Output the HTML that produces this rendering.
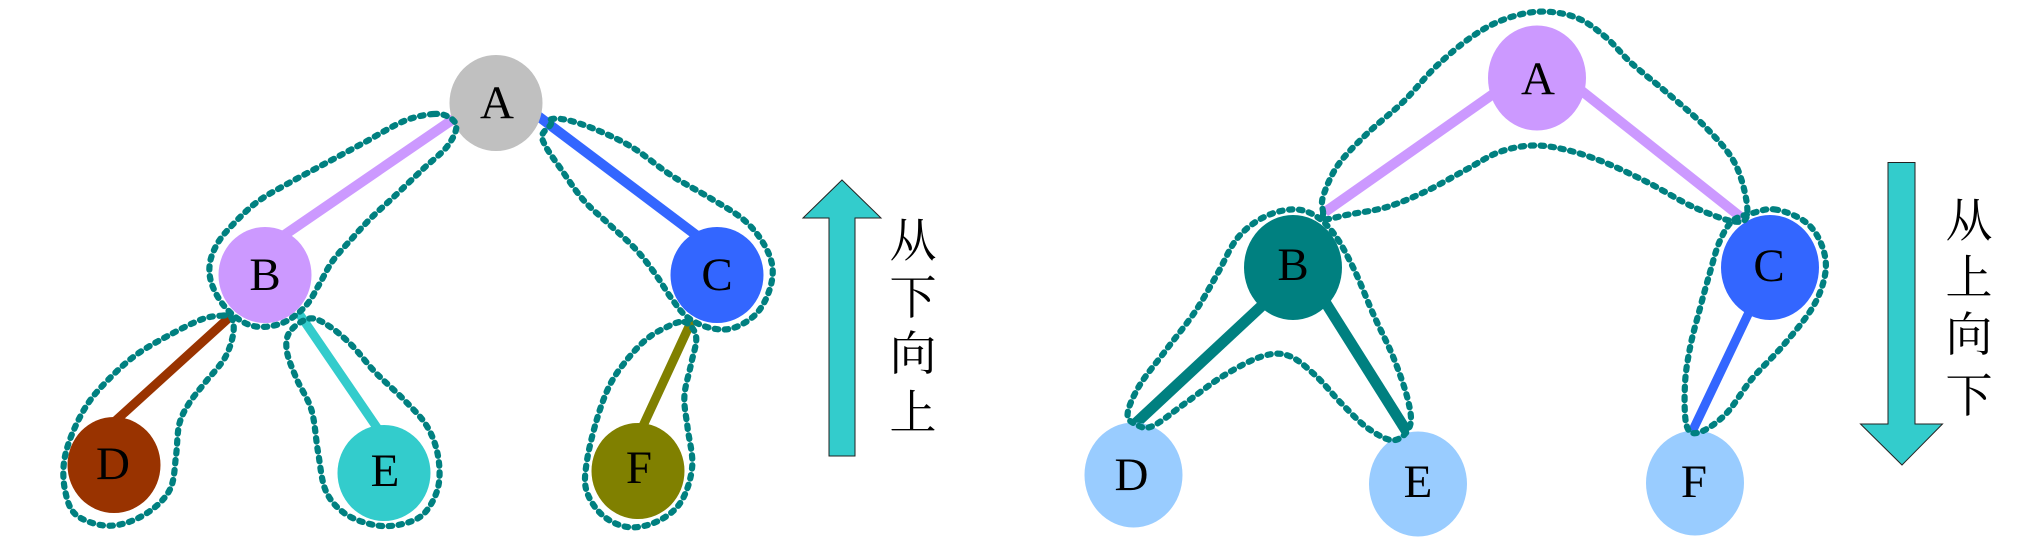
<!DOCTYPE html>
<html lang="zh">
<head>
<meta charset="utf-8">
<title>Tree traversal: bottom-up and top-down</title>
<style>
  html, body { margin: 0; padding: 0; background: #fff; }
  body { width: 2044px; height: 550px; overflow: hidden; }
  svg { display: block; }
  .letter { font-family: "Liberation Serif", serif; font-size: 47px; text-anchor: middle; fill: #000; }
  .cjk { font-family: "Liberation Serif", "Noto Serif CJK SC", serif; font-size: 47px; font-weight: 400; text-anchor: middle; fill: #000; }
  .blob { fill: none; stroke: #008080; stroke-width: 6.2; stroke-linecap: round; stroke-linejoin: round; stroke-dasharray: 3.5 6.5; }
  .arrow { fill: #33cccc; stroke: #222; stroke-width: 1; }
</style>
</head>
<body>
<svg width="2044" height="550" viewBox="0 0 2044 550" xmlns="http://www.w3.org/2000/svg">
  <rect width="2044" height="550" fill="#fff"/>

  <g>
    <g fill="none">
      <line x1="455" y1="118" x2="280" y2="238" stroke="#cc99ff" stroke-width="10"/>
      <line x1="538" y1="116" x2="700" y2="238" stroke="#3366ff" stroke-width="10"/>
      <line x1="232" y1="315" x2="112" y2="424" stroke="#993300" stroke-width="9"/>
      <line x1="298" y1="312" x2="380" y2="432" stroke="#33cccc" stroke-width="9"/>
      <line x1="692" y1="320" x2="642" y2="428" stroke="#808000" stroke-width="9"/>
    </g>
    <ellipse cx="496" cy="103" rx="46.5" ry="48" fill="#c0c0c0"/>
    <ellipse cx="265" cy="275" rx="46.5" ry="48" fill="#cc99ff"/>
    <ellipse cx="717" cy="275" rx="46.5" ry="48" fill="#3366ff"/>
    <ellipse cx="114" cy="465" rx="46.5" ry="48" fill="#993300"/>
    <ellipse cx="384" cy="473" rx="46.5" ry="48" fill="#33cccc"/>
    <ellipse cx="638" cy="471" rx="46.5" ry="48" fill="#808000"/>
    <text class="letter" x="497" y="118">A</text>
    <text class="letter" x="265" y="290">B</text>
    <text class="letter" x="717" y="290">C</text>
    <text class="letter" x="113" y="479">D</text>
    <text class="letter" x="385" y="486">E</text>
    <text class="letter" x="639" y="483">F</text>

    <g>
      <path class="blob" data-ox="0"
        data-pts="665,325 620,345 560,405 500,465 440,525 395,575 360,635 335,690 322,750 325,810 345,875 375,920 405,932 440,915 470,870 490,810 510,745 540,680 570,620 605,560 650,480 685,420 700,365 690,335"/>
      <path class="blob" data-ox="0"
        data-pts="845,340 870,342 915,370 970,420 1030,500 1090,565 1140,625 1170,690 1185,760 1180,830 1160,895 1125,935 1090,935 1055,905 1030,850 1005,780 975,710 935,640 895,570 860,480 838,420 832,385 845,355"/>
      <path class="blob" data-ox="0"
        data-pts="340,900 355,905 358,950 345,1020 315,1090 290,1150 275,1210 270,1300 262,1390 235,1450 195,1490 155,1497 115,1465 100,1400 98,1320 110,1240 135,1150 170,1075 210,1010 260,955 310,910"/>
      <path class="blob" data-ox="0"
        data-pts="475,908 505,930 540,985 575,1060 620,1140 655,1215 672,1300 672,1390 650,1465 615,1495 575,1497 530,1465 500,1400 488,1290 478,1170 455,1080 440,1000 445,945"/>
      <path class="blob" data-ox="0"
        data-pts="1050,918 1068,960 1060,1040 1050,1130 1055,1220 1062,1330 1045,1430 1010,1485 965,1503 925,1470 900,1400 900,1320 915,1200 935,1100 960,1030 990,970 1020,935"/>
    </g>

    <polygon class="arrow" points="842,180 881,218 855,218 855,456 829,456 829,218 803,218"/>
    <g>
      <text class="cjk" x="913" y="257">从</text>
      <text class="cjk" x="913" y="314">下</text>
      <text class="cjk" x="913" y="370">向</text>
      <text class="cjk" x="913" y="429">上</text>
    </g>
  </g>

  <g>
    <g fill="none">
      <line x1="1496" y1="92" x2="1325" y2="212" stroke="#cc99ff" stroke-width="10"/>
      <line x1="1578" y1="88" x2="1742" y2="218" stroke="#cc99ff" stroke-width="10"/>
      <line x1="1268" y1="300" x2="1136" y2="423" stroke="#008080" stroke-width="11"/>
      <line x1="1322" y1="297" x2="1407" y2="432" stroke="#008080" stroke-width="11"/>
      <line x1="1752" y1="306" x2="1692" y2="432" stroke="#3366ff" stroke-width="9"/>
    </g>
    <ellipse cx="1537" cy="78" rx="49" ry="52.5" fill="#cc99ff"/>
    <ellipse cx="1293" cy="267.5" rx="49" ry="52.5" fill="#008080"/>
    <ellipse cx="1770" cy="267.5" rx="49" ry="52.5" fill="#3366ff"/>
    <ellipse cx="1133.5" cy="475" rx="49" ry="52.5" fill="#99ccff"/>
    <ellipse cx="1418" cy="484" rx="49" ry="52.5" fill="#99ccff"/>
    <ellipse cx="1695" cy="483" rx="49" ry="52.5" fill="#99ccff"/>
    <text class="letter" x="1538" y="94">A</text>
    <text class="letter" x="1293" y="280">B</text>
    <text class="letter" x="1769" y="281">C</text>
    <text class="letter" x="1131.5" y="490">D</text>
    <text class="letter" x="1418" y="497">E</text>
    <text class="letter" x="1694" y="497">F</text>

    <g>
      <path class="blob" data-ox="1022"
        data-pts="462,605 462,560 485,470 530,380 585,290 635,190 690,105 740,55 795,33 850,50 895,105 935,180 990,265 1050,365 1095,470 1113,600 1095,632 1030,590 960,520 890,460 830,425 780,415 730,435 680,485 620,545 560,590 500,612 465,625"/>
      <path class="blob" data-ox="1022"
        data-pts="415,597 370,620 330,680 300,780 265,890 220,1000 180,1100 162,1180 175,1210 200,1215 250,1150 310,1070 370,1015 410,1015 450,1070 490,1150 530,1220 570,1255 595,1215 592,1140 570,1020 540,900 510,770 480,670 450,615"/>
      <path class="blob" data-ox="1022"
        data-pts="1155,597 1200,630 1225,690 1233,770 1215,870 1170,980 1120,1080 1080,1180 1040,1232 1020,1215 1017,1100 1025,990 1040,880 1055,780 1070,690 1090,630 1120,608"/>
    </g>

    <polygon class="arrow" points="1888,162.5 1915,162.5 1915,424 1942.5,424 1902,465 1860.5,424 1888,424"/>
    <g>
      <text class="cjk" x="1969" y="237">从</text>
      <text class="cjk" x="1969" y="294">上</text>
      <text class="cjk" x="1969" y="351">向</text>
      <text class="cjk" x="1969" y="412">下</text>
    </g>
  </g>
</svg>
<script>
  // Outline vertices are stored in a 1568-unit reference grid; map to page pixels.
  var scaleX = 1022 / 1568;
  var scaleY = 550 / 1568;
  document.querySelectorAll('path.blob').forEach(function (path) {
    var ox = parseFloat(path.getAttribute('data-ox'));
    var pts = path.getAttribute('data-pts').split(' ').map(function (p) {
      var c = p.split(',');
      return [ox + parseFloat(c[0]) * scaleX, parseFloat(c[1]) * scaleY];
    });
    var n = pts.length;
    var d = 'M' + pts[0][0].toFixed(1) + ' ' + pts[0][1].toFixed(1);
    for (var i = 0; i < n; i++) {
      var p0 = pts[(i - 1 + n) % n], p1 = pts[i], p2 = pts[(i + 1) % n], p3 = pts[(i + 2) % n];
      var c1x = p1[0] + (p2[0] - p0[0]) / 6, c1y = p1[1] + (p2[1] - p0[1]) / 6;
      var c2x = p2[0] - (p3[0] - p1[0]) / 6, c2y = p2[1] - (p3[1] - p1[1]) / 6;
      d += 'C' + c1x.toFixed(1) + ' ' + c1y.toFixed(1) + ' ' + c2x.toFixed(1) + ' ' + c2y.toFixed(1) + ' ' + p2[0].toFixed(1) + ' ' + p2[1].toFixed(1);
    }
    path.setAttribute('d', d + 'Z');
  });
</script>
</body>
</html>
